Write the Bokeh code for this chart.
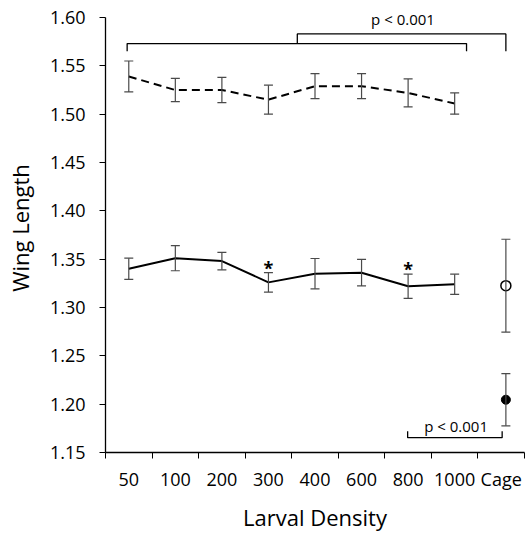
from bokeh.plotting import figure
from bokeh.models import (ColumnDataSource, Whisker, TeeHead, FixedTicker, Range1d,
                          NumeralTickFormatter, Label)
from bokeh.core.properties import value
from bokeh.embed import file_html
from bokeh.resources import INLINE

# ---- data ----
categories = ["50", "100", "200", "300", "400", "600", "800", "1000", "Cage"]
dash_mean = [1.539, 1.525, 1.525, 1.515, 1.529, 1.529, 1.522, 1.511]
dash_err = [0.016, 0.012, 0.013, 0.015, 0.013, 0.013, 0.0145, 0.011]
solid_mean = [1.340, 1.351, 1.348, 1.326, 1.335, 1.336, 1.322, 1.324]
solid_err = [0.011, 0.013, 0.009, 0.010, 0.0157, 0.0137, 0.0126, 0.0105]
cage_open_mean = [1.3226]
cage_open_err = [0.048]
cage_fill_mean = [1.2046]
cage_fill_err = [0.027]
star_cats = ["300", "800"]
y_ticks = [1.15, 1.20, 1.25, 1.30, 1.35, 1.40, 1.45, 1.50, 1.55, 1.60]
p_text = "p < 0.001"

FONT = "Open Sans"
ERR_COLOR = "#4a4a4a"

cx = [i + 0.5 for i in range(len(categories))]
lx = cx[:8]
cage_x = cx[8] + 0.1

p = figure(width=527, height=534, x_range=Range1d(0, 9), y_range=Range1d(1.15, 1.6145),
           output_backend="svg", toolbar_location=None,
           min_border_left=105, min_border_right=3, min_border_top=3, min_border_bottom=81)
p.outline_line_color = None
p.grid.visible = False
p.background_fill_color = "white"

# axes
xa = p.xaxis[0]
xa.ticker = FixedTicker(ticks=cx, minor_ticks=list(range(10)))
xa.major_label_overrides = {c: lab for c, lab in zip(cx, categories)}
xa.major_tick_out = 0
xa.major_tick_in = 0
xa.minor_tick_out = 6
xa.minor_tick_in = 0
xa.minor_tick_line_color = "black"
xa.axis_line_color = "black"
xa.axis_line_width = 1.3
xa.major_label_standoff = 8
xa.major_label_text_font = FONT
xa.major_label_text_font_size = "18px"
xa.major_label_text_color = "black"
xa.axis_label = "Larval Density"
xa.axis_label_text_font = FONT
xa.axis_label_text_font_size = "22px"
xa.axis_label_text_font_style = "normal"
xa.axis_label_text_color = "black"
xa.axis_label_standoff = 8

ya = p.yaxis[0]
ya.ticker = FixedTicker(ticks=y_ticks)
ya.bounds = (y_ticks[0], y_ticks[-1])
ya.formatter = NumeralTickFormatter(format="0.00")
ya.major_tick_out = 6
ya.major_tick_in = 0
ya.minor_tick_out = 0
ya.minor_tick_in = 0
ya.major_tick_line_color = "black"
ya.axis_line_color = "black"
ya.axis_line_width = 1.3
ya.major_label_standoff = 14
ya.major_label_text_font = FONT
ya.major_label_text_font_size = "18px"
ya.major_label_text_color = "black"
ya.axis_label = "Wing Length"
ya.axis_label_text_font = FONT
ya.axis_label_text_font_size = "22px"
ya.axis_label_text_font_style = "normal"
ya.axis_label_text_color = "black"
ya.axis_label_standoff = 12

# lines
p.line(lx, dash_mean, line_color="black", line_width=2, line_dash="8 5")
p.line(lx, solid_mean, line_color="black", line_width=2)


def add_err(xs, means, errs):
    src = ColumnDataSource(dict(x=xs,
                                up=[m + e for m, e in zip(means, errs)],
                                lo=[m - e for m, e in zip(means, errs)]))
    w = Whisker(source=src, base="x", upper="up", lower="lo",
                line_color=ERR_COLOR, line_width=1.2,
                upper_head=TeeHead(size=9, line_color=ERR_COLOR, line_width=1.2),
                lower_head=TeeHead(size=9, line_color=ERR_COLOR, line_width=1.2),
                level="overlay")
    p.add_layout(w)


add_err(lx, dash_mean, dash_err)
add_err(lx, solid_mean, solid_err)
add_err([cage_x], cage_open_mean, cage_open_err)
add_err([cage_x], cage_fill_mean, cage_fill_err)

p.scatter([cage_x], cage_open_mean, size=10, fill_color="white", line_color="black",
          line_width=1.5, level="overlay")
p.scatter([cage_x], cage_fill_mean, size=9, fill_color="black", line_color="black",
          level="overlay")

# asterisks
sx = [cx[categories.index(c)] for c in star_cats]
sy = [solid_mean[categories.index(c)] + solid_err[categories.index(c)] - 0.0075 for c in star_cats]
p.text(sx, sy, text=["*"] * len(sx), text_font=value(FONT), text_font_style="bold",
       text_font_size="18px", text_align="center", text_baseline="bottom", text_color="black")

# significance brackets
top_y = 1.573
top_tick = 1.565
upper_y = 1.583
mid_x = 4.12
p.multi_line(
    xs=[[0.465, 0.465, 7.755, 7.755], [mid_x, mid_x, cage_x, cage_x]],
    ys=[[top_tick, top_y, top_y, top_tick], [top_y, upper_y, upper_y, top_tick]],
    line_color="black", line_width=1.3)
p.multi_line(
    xs=[[6.49, 6.49, 8.52, 8.52]],
    ys=[[1.172, 1.1653, 1.1653, 1.172]],
    line_color="black", line_width=1.3)
for tx, ty in [(6.39, 1.5985), (7.53, 1.1775)]:
    p.add_layout(Label(x=tx, y=ty, text=p_text, text_font=FONT, text_font_size="15px",
                       text_align="center", text_baseline="middle", text_color="black"))

open("out.html", "w").write(file_html(p, INLINE))
